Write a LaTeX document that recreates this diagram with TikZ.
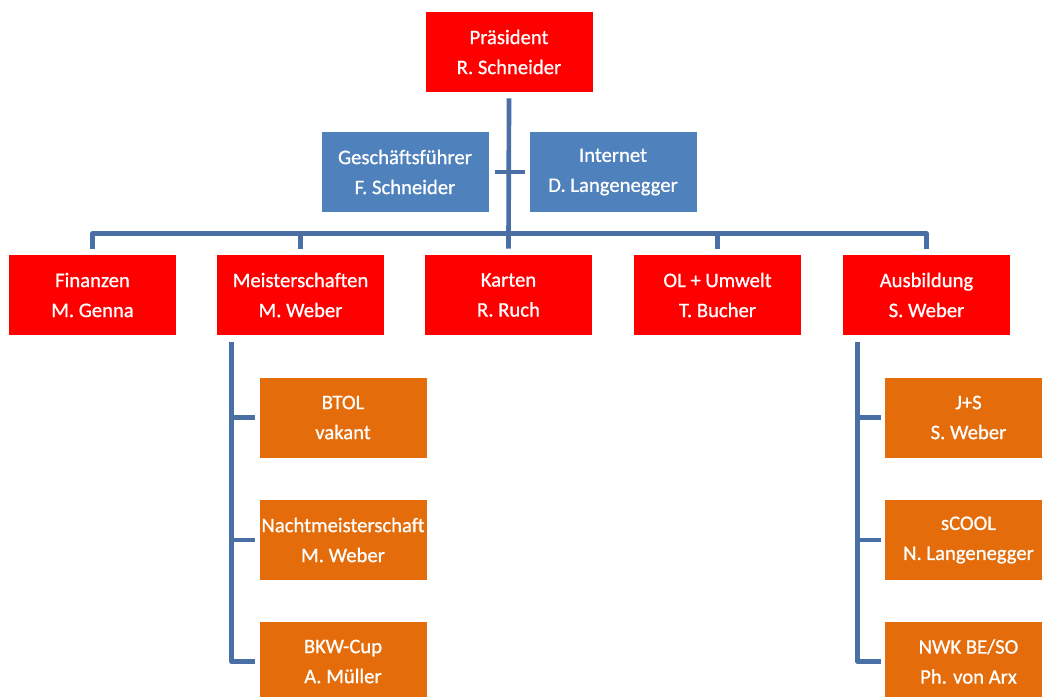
\documentclass[tikz,border=0pt]{standalone}
\usepackage{fontspec}
\setmainfont{Carlito}
\newfontfamily\boxfont[FakeBold=0.8]{Carlito}
\usepackage{tikz}
\definecolor{boardred}{HTML}{FF0000}
\definecolor{staffblue}{HTML}{4F81BD}
\definecolor{teamorange}{HTML}{E46C0A}
\definecolor{linkblue}{HTML}{4A6FA5}
\tikzstyle{unit}=[rectangle, minimum width=125.25pt, minimum height=60pt, inner sep=0pt, text=white, align=center, font=\boxfont\fontsize{15.5}{22.5}\selectfont]
\tikzstyle{board}=[unit, fill=boardred]
\tikzstyle{staff}=[unit, fill=staffblue]
\tikzstyle{team}=[unit, fill=teamorange]
\tikzstyle{link}=[draw=linkblue, line width=3.5pt, line join=round]

\begin{document}
\begin{tikzpicture}[x=0.75pt, y=-0.75pt]
      \useasboundingbox (0,0) rectangle (1042,696);
      \clip (0,0) rectangle (1042,696);

      \node[board] (praesident) at (509,52) {Präsident\\R. Schneider};
      \node[staff] (geschaeft) at (405,172) {Geschäftsführer\\F. Schneider};
      \node[staff] (internet) at (613,172) {Internet\\D. Langenegger};
      \node[board] (finanzen) at (92.5,295) {Finanzen\\M. Genna};
      \node[board] (meister) at (300.5,295) {Meisterschaften\\M. Weber};
      \node[board] (karten) at (508.5,295) {Karten\\R. Ruch};
      \node[board] (olumwelt) at (717.5,295) {OL + Umwelt\\T. Bucher};
      \node[board] (ausbildung) at (926.5,295) {Ausbildung\\S. Weber};
      \node[team] (btol) at (343,417.5) {BTOL\\vakant};
      \node[team] (nacht) at (343,540) {Nachtmeisterschaft\\M. Weber};
      \node[team] (bkw) at (343,661.5) {BKW-Cup\\A. Müller};
      \node[team] (jus) at (968.5,417.5) {J+S\\S. Weber};
      \node[team] (scool) at (968.5,540) {sCOOL\\N. Langenegger};
      \node[team] (nwk) at (968.5,661.5) {NWK BE/SO\\Ph. von Arx};

      \draw[link] ([yshift=-4.5pt]praesident.south) -- ([yshift=4.5pt]karten.north);
      \draw[link, shorten <=4.5pt, shorten >=3pt] (geschaeft) -- (internet);
      \draw[link] ([yshift=4.5pt]finanzen.north) -- ++(0,-15) -| ([yshift=4.5pt]ausbildung.north);
      \foreach \n in {meister, olumwelt}{
        \draw[link] ([yshift=4.5pt]\n.north) -- ++(0,-15);
      }

      \draw[link] ([xshift=11.25pt, yshift=-5pt]meister.south west) |- ([xshift=-3pt]bkw.west);
      \draw[link] ([xshift=11.25pt, yshift=-5pt]ausbildung.south west) |- ([xshift=-3pt]nwk.west);
      \foreach \n in {btol, nacht, jus, scool}{
        \draw[link] ([xshift=-3pt]\n.west) -- ++(-23,0);
      }
\end{tikzpicture}
\end{document}
